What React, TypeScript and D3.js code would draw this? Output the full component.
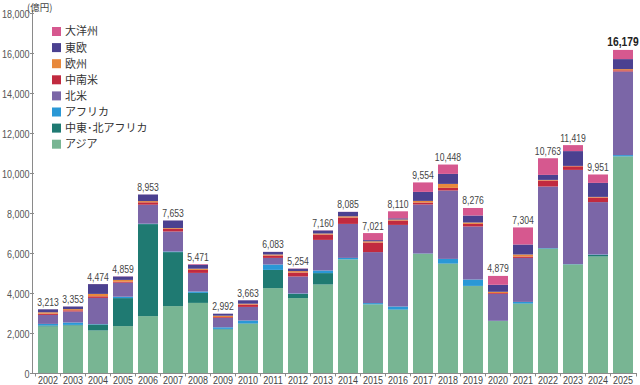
import React from "react";
import * as d3 from "d3";

const years = ["2002","2003","2004","2005","2006","2007","2008","2009","2010","2011","2012","2013","2014","2015","2016","2017","2018","2019","2020","2021","2022","2023","2024","2025"];
const totals = [3213,3353,4474,4859,8953,7653,5471,2992,3663,6083,5254,7160,8085,7021,8110,9554,10448,8276,4879,7304,10763,11419,9951,16179];

const asia     = [2350,2400,2150,2370,2870,3370,3530,2200,2480,4270,3770,4450,5700,3450,3180,5980,5480,4370,2620,3480,6230,5450,5850,10850];
const mena     = [50,30,300,1400,4600,2700,500,30,20,910,210,570,10,10,20,10,20,10,5,20,20,10,80,10];
const africa   = [80,120,20,70,20,30,70,80,150,270,20,130,70,60,150,10,230,320,10,80,20,10,20,60];
const nAmerica = [450,550,1310,700,950,1000,930,470,680,330,850,1530,1700,2550,4080,2450,3420,2650,1350,2200,3080,4710,2620,4180];
const latAm    = [60,60,80,50,120,130,150,40,120,120,200,270,320,480,220,100,130,130,40,70,300,180,230,60];
const europe   = [70,60,120,90,60,40,60,70,40,50,70,50,60,60,50,80,200,70,60,100,30,20,30,60];
const eEurope  = [150,130,490,170,330,380,200,100,170,130,120,150,220,60,60,450,500,350,350,500,250,740,700,500];
const oceania  = [3,3,4,9,3,3,31,2,3,3,14,10,5,351,350,474,468,376,444,854,833,299,421,459];

const seriesNames = ["アジア","中東･北アフリカ","アフリカ","北米","中南米","欧州","東欧","大洋州"];
const seriesValues = [asia, mena, africa, nAmerica, latAm, europe, eEurope, oceania];
const seriesColors = ["#78b593","#1f7a72","#2a98d6","#7b66a7","#c12a3f","#e8893c","#4b4190","#d6588f"];

const yTicks = [0,2000,4000,6000,8000,10000,12000,14000,16000,18000];

const numFont = "'Liberation Sans', Arial, sans-serif";
const cjkFont = "'Noto Sans CJK JP', 'Noto Sans', sans-serif";

function NText(props: { x: number; y: number; anchor: string; size: number; fill: string; bold?: boolean; sx?: number; children: any }) {
  const sx = props.sx ?? 0.82;
  return (
    <text transform={`translate(${props.x},${props.y}) scale(${sx},1)`} textAnchor={props.anchor} fontSize={props.size}
      fill={props.fill} fontWeight={props.bold ? "bold" : "normal"} fontFamily={numFont}>
      {props.children}
    </text>
  );
}

export default function App() {
  const W = 640, H = 385;
  const x = d3.scaleBand<string>().domain(years).range([35.5, 635.5]).paddingInner(0.2).paddingOuter(0.1);
  const y = d3.scaleLinear().domain([0, 18000]).range([373.5, 13.5]);

  const rows = years.map((yr, i) => {
    const r: any = { year: yr };
    seriesNames.forEach((n, k) => { r[n] = seriesValues[k][i]; });
    return r;
  });
  const stack = d3.stack<any>().keys(seriesNames)(rows);
  const fmt = d3.format(",");
  const legendOrder = [...seriesNames].reverse();
  const colorOf = (n: string) => seriesColors[seriesNames.indexOf(n)];

  return (
    <svg width={W} height={H} style={{ position: "absolute", left: 0, top: 0, background: "#fff" }}>
      {stack.map((s, k) => (
        <g key={k} fill={seriesColors[k]}>
          {s.map((d, i) => (
            <rect key={i} x={x(years[i])} width={x.bandwidth()} y={y(d[1])} height={Math.max(0, y(d[0]) - y(d[1]))} />
          ))}
        </g>
      ))}
      {/* y axis */}
      <line x1={32.5} x2={32.5} y1={10} y2={373.5} stroke="#8a8a8a" strokeWidth={1} />
      {yTicks.map((t) => (
        <g key={t}>
          <line x1={30} x2={34} y1={y(t)} y2={y(t)} stroke="#8a8a8a" />
          <NText x={29.5} y={y(t) + 4} anchor="end" size={11} fill="#555">{fmt(t)}</NText>
        </g>
      ))}
      <text x={27} y={10.5} fontSize={9.5} fill="#444" fontFamily={cjkFont}>(億円)</text>
      {/* x axis */}
      <line x1={32.5} x2={637} y1={373.5} y2={373.5} stroke="#8a8a8a" />
      {years.map((yr) => (
        <g key={yr}>
          <line x1={(x(yr) as number) - 2.5} x2={(x(yr) as number) - 2.5} y1={373.5} y2={376.5} stroke="#8a8a8a" />
          <NText x={(x(yr) as number) + x.bandwidth() / 2} y={384} anchor="middle" size={11} fill="#444">{yr}</NText>
        </g>
      ))}
      <line x1={636.5} x2={636.5} y1={373.5} y2={376.5} stroke="#8a8a8a" />
      {/* totals */}
      {years.map((yr, i) => {
        const last = i === years.length - 1;
        return (
          <NText key={yr} x={(x(yr) as number) + x.bandwidth() / 2} y={y(totals[i]) - 3.5} anchor="middle"
            size={last ? 12.5 : 10.5} bold={last} fill={last ? "#222" : "#444"}>
            {fmt(totals[i])}
          </NText>
        );
      })}
      {/* legend */}
      {legendOrder.map((n, j) => (
        <g key={n} transform={`translate(52, ${27 + j * 16.1})`}>
          <rect width={9} height={9} fill={colorOf(n)} />
          <text x={13} y={4.5} dy="0.36em" fontSize={11} fill="#333" fontFamily={cjkFont}>{n}</text>
        </g>
      ))}
    </svg>
  );
}
